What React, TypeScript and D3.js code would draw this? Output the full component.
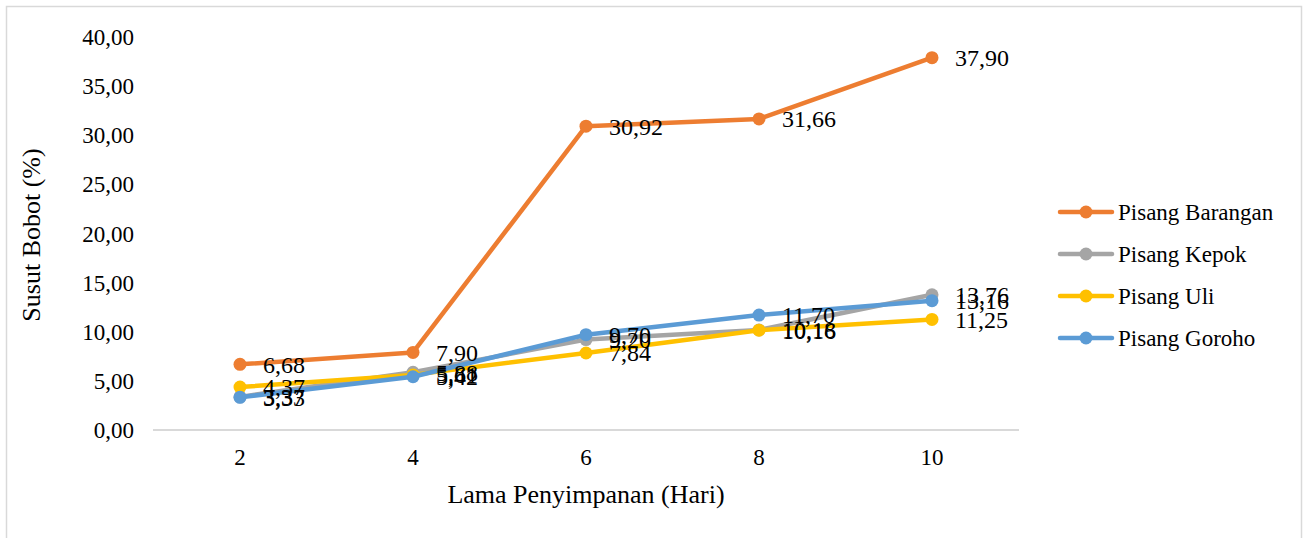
import React from "react";
import * as d3 from "d3";

const days = ["2", "4", "6", "8", "10"];
const barangan = [6.68, 7.9, 30.92, 31.66, 37.9];
const kepok = [3.37, 5.88, 9.2, 10.18, 13.76];
const uli = [4.37, 5.61, 7.84, 10.16, 11.25];
const goroho = [3.33, 5.42, 9.7, 11.7, 13.16];
const yTicks = [0, 5, 10, 15, 20, 25, 30, 35, 40];

const series = [
  { name: "Pisang Barangan", values: barangan, color: "#ED7D31" },
  { name: "Pisang Kepok", values: kepok, color: "#A5A5A5" },
  { name: "Pisang Uli", values: uli, color: "#FFC000" },
  { name: "Pisang Goroho", values: goroho, color: "#5B9BD5" },
];

const W = 1306;
const H = 538;
const font = '"Times New Roman", "Liberation Serif", "DejaVu Serif", serif';
const fmt = (v: number) => v.toFixed(2).replace(".", ",");

const App = () => {
  const x = d3.scalePoint().domain(days).range([240, 932]);
  const y = d3.scaleLinear().domain([0, 40]).range([430, 37]);
  const line = d3
    .line<number>()
    .x((_, i) => x(days[i]) ?? 0)
    .y((d) => y(d));

  return (
    <svg
      width={W}
      height={H}
      style={{ position: "absolute", left: 0, top: 0, background: "#fff", fontFamily: font }}
    >
      {/* chart frame */}
      <rect x={6.5} y={6.5} width={1295} height={H} fill="none" stroke="#D9D9D9" strokeWidth={1.5} />

      {/* y axis labels */}
      {yTicks.map((t) => (
        <text key={t} x={134} y={y(t)} dy="0.35em" textAnchor="end" fontSize={23} fill="#000">
          {fmt(t)}
        </text>
      ))}

      {/* category axis */}
      <line x1={153} x2={1019} y1={y(0)} y2={y(0)} stroke="#D9D9D9" strokeWidth={2} />
      {days.map((d) => (
        <text key={d} x={x(d)} y={465} textAnchor="middle" fontSize={23} fill="#000">
          {d}
        </text>
      ))}

      {/* axis titles */}
      <text x={586} y={503} textAnchor="middle" fontSize={26} fill="#000">
        Lama Penyimpanan (Hari)
      </text>
      <text
        transform={`translate(40,235) rotate(-90)`}
        textAnchor="middle"
        fontSize={26}
        fill="#000"
      >
        Susut Bobot (%)
      </text>

      {/* lines and markers */}
      {series.map((s) => (
        <g key={s.name}>
          <path d={line(s.values) ?? ""} fill="none" stroke={s.color} strokeWidth={4.5} strokeLinejoin="round" strokeLinecap="round" />
          {s.values.map((v, i) => (
            <circle key={i} cx={x(days[i])} cy={y(v)} r={6.5} fill={s.color} />
          ))}
        </g>
      ))}

      {/* data labels */}
      {series.map((s) => (
        <g key={s.name + "-lbl"}>
          {s.values.map((v, i) => (
            <text key={i} x={(x(days[i]) ?? 0) + 23} y={y(v)} dy="0.35em" fontSize={24} fill="#000">
              {fmt(v)}
            </text>
          ))}
        </g>
      ))}

      {/* legend */}
      {series.map((s, i) => {
        const ly = 212 + i * 42;
        return (
          <g key={s.name + "-leg"}>
            <line x1={1060} x2={1112} y1={ly} y2={ly} stroke={s.color} strokeWidth={4.5} strokeLinecap="round" />
            <circle cx={1086} cy={ly} r={6.5} fill={s.color} />
            <text x={1118} y={ly} dy="0.35em" fontSize={23} fill="#000">
              {s.name}
            </text>
          </g>
        );
      })}
    </svg>
  );
};

export default App;
